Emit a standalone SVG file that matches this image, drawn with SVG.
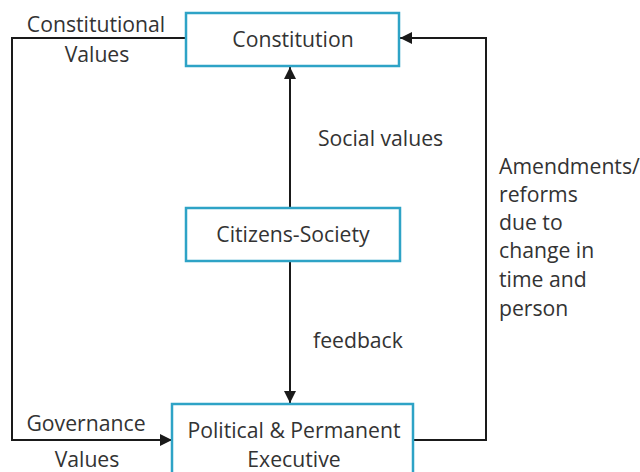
<svg xmlns="http://www.w3.org/2000/svg" width="640" height="472" viewBox="0 0 640 472">
<style>
.box{fill:#fff;stroke:#2ea3c6;stroke-width:2.5}
.t{font-family:"Open Sans","Noto Sans","DejaVu Sans",sans-serif;font-size:21.2px;fill:#333}
.m{text-anchor:middle}
.c{fill:none;stroke:#1a1a1a;stroke-width:2}
</style>
<defs>
<marker id="ah" viewBox="0 0 10 10" refX="10" refY="5" markerWidth="6" markerHeight="6" orient="auto" markerUnits="strokeWidth">
<path d="M0,0 L10,5 L0,10 z" fill="#1a1a1a"/>
</marker>
</defs>
<rect width="640" height="472" fill="#fff"/>
<g id="connectors">
<path class="c" d="M186,38 H12 V440 H172" marker-end="url(#ah)"/>
<path class="c" d="M413,440 H486 V38 H400" marker-end="url(#ah)"/>
<path class="c" d="M290,208 V67" marker-end="url(#ah)"/>
<path class="c" d="M290,261 V403" marker-end="url(#ah)"/>
</g>
<g id="constitution">
<rect class="box" x="186" y="13" width="213" height="53"/>
<text class="t m" x="293" y="47">Constitution</text>
</g>
<g id="citizens">
<rect class="box" x="186" y="208" width="214" height="53"/>
<text class="t m" x="293" y="242">Citizens-Society</text>
</g>
<g id="executive">
<rect class="box" x="172" y="404" width="241" height="72"/>
<text class="t m" x="294" y="438">Political &amp; Permanent</text>
<text class="t m" x="294" y="467">Executive</text>
</g>
<g id="labels">
<text class="t m" x="96" y="32">Constitutional</text>
<text class="t m" x="97" y="62">Values</text>
<text class="t m" x="86" y="431">Governance</text>
<text class="t m" x="87" y="467">Values</text>
<text class="t" x="318" y="146">Social values</text>
<text class="t" x="313" y="348">feedback</text>
<text class="t" x="499" y="174">Amendments/</text>
<text class="t" x="499" y="202">reforms</text>
<text class="t" x="499" y="230">due to</text>
<text class="t" x="499" y="258">change in</text>
<text class="t" x="499" y="287">time and</text>
<text class="t" x="499" y="316">person</text>
</g>
</svg>
